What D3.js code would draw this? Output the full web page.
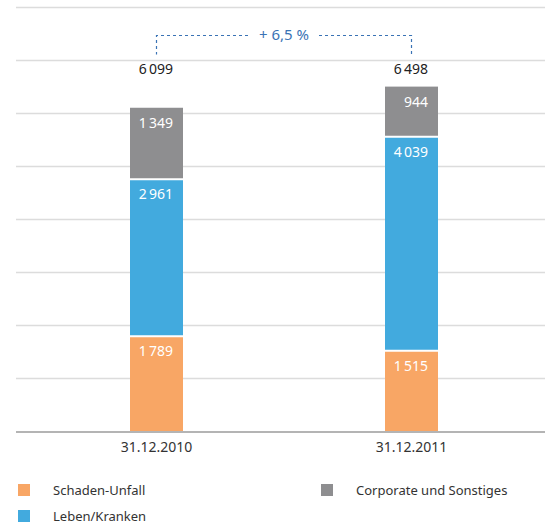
<!DOCTYPE html>
<html>
<head>
<meta charset="utf-8">
<script src="https://cdn.jsdelivr.net/npm/d3@7"></script>
<style>
  body { margin: 0; background: #fff; }
  text { font-family: "Noto Sans", "Liberation Sans", sans-serif; }
</style>
</head>
<body>
<div id="chart"></div>
<script>
// Data
let categories = ['31.12.2010', '31.12.2011'];
let seriesNames = ['Schaden-Unfall', 'Leben/Kranken', 'Corporate und Sonstiges'];
let schadenUnfall = [1789, 1515];
let lebenKranken = [2961, 4039];
let corporate = [1349, 944];
let totals = [6099, 6498];
let yTicks = [1000, 2000, 3000, 4000, 5000, 6000, 7000, 8000];
let changeLabel = '+ 6,5 %';

let colors = ['#f8a665', '#42aade', '#8e8e90'];

// Svg dimensions
let svgWidth = 545;
let svgHeight = 525;
let plot = { left: 16, right: 545, top: 7, bottom: 431 };

let svg = d3.select('#chart').append('svg')
    .attr('width', svgWidth)
    .attr('height', svgHeight);

// Build rows for the stack
let rows = categories.map((c, i) => ({
    cat: c,
    s0: schadenUnfall[i],
    s1: lebenKranken[i],
    s2: corporate[i]
}));
let stack = d3.stack().keys(['s0', 's1', 's2'])(rows);

// Scales
let xScale = d3.scaleBand()
    .domain(categories)
    .range([29, 539]);
let yScale = d3.scaleLinear()
    .domain([0, 8000])
    .range([plot.bottom, plot.top]);
let barWidth = 53;
let barX = c => xScale(c) + xScale.bandwidth() / 2 - barWidth / 2;
let fmt = v => d3.format(',')(v).replace(',', '\u2009');

// Gridlines
svg.append('g').selectAll('line')
    .data(yTicks).enter()
    .append('line')
    .attr('x1', plot.left)
    .attr('x2', plot.right)
    .attr('y1', d => Math.round(yScale(d)) + 0.5)
    .attr('y2', d => Math.round(yScale(d)) + 0.5)
    .style('stroke', '#dcdcdc')
    .style('stroke-width', 1.5);

// Bars
let layers = svg.selectAll('g.layer')
    .data(stack).enter()
    .append('g')
    .attr('class', 'layer')
    .style('fill', (d, i) => colors[i]);

layers.selectAll('rect')
    .data(d => d).enter()
    .append('rect')
    .attr('x', d => barX(d.data.cat))
    .attr('width', barWidth)
    .attr('y', d => yScale(d[1]))
    .attr('height', d => yScale(d[0]) - yScale(d[1]));

// White separators between segments
layers.filter((d, i) => i > 0).selectAll('line')
    .data(d => d).enter()
    .append('line')
    .attr('x1', d => barX(d.data.cat))
    .attr('x2', d => barX(d.data.cat) + barWidth)
    .attr('y1', d => yScale(d[0]))
    .attr('y2', d => yScale(d[0]))
    .style('stroke', '#fff')
    .style('stroke-width', 2);

// Segment labels
layers.selectAll('text')
    .data(d => d).enter()
    .append('text')
    .attr('x', d => barX(d.data.cat) + barWidth - 10)
    .attr('y', d => yScale(d[1]) + 20)
    .attr('text-anchor', 'end')
    .style('font-size', '14px')
    .style('fill', '#fff')
    .text(d => fmt(d[1] - d[0]));

// Baseline and x axis labels
svg.append('line')
    .attr('x1', plot.left)
    .attr('x2', plot.right)
    .attr('y1', plot.bottom + 1)
    .attr('y2', plot.bottom + 1)
    .style('stroke', '#b4b4b4')
    .style('stroke-width', 2);

svg.append('g').selectAll('text')
    .data(categories).enter()
    .append('text')
    .attr('x', d => xScale(d) + xScale.bandwidth() / 2)
    .attr('y', 452)
    .attr('text-anchor', 'middle')
    .style('font-size', '14px')
    .style('fill', '#333')
    .text(d => d);

// Totals above bars
svg.append('g').selectAll('text')
    .data(categories).enter()
    .append('text')
    .attr('x', d => barX(d) + barWidth - 10)
    .attr('y', 74)
    .attr('text-anchor', 'end')
    .style('font-size', '14px')
    .style('fill', '#222')
    .text((d, i) => fmt(totals[i]));

// Change bracket
let cx0 = xScale(categories[0]) + xScale.bandwidth() / 2;
let cx1 = xScale(categories[1]) + xScale.bandwidth() / 2;
let mid = (cx0 + cx1) / 2;
let bracketY = 35.5;
let bracket = svg.append('g')
    .style('stroke', '#3a73b5')
    .style('stroke-width', 1.2)
    .style('stroke-dasharray', '3,3')
    .style('fill', 'none');
bracket.append('path')
    .attr('d', `M${mid - 36},${bracketY} H${cx0} V${bracketY + 19}`);
bracket.append('path')
    .attr('d', `M${mid + 35},${bracketY} H${cx1} V${bracketY + 19}`);
svg.append('text')
    .attr('x', mid)
    .attr('y', 40)
    .attr('text-anchor', 'middle')
    .style('font-size', '15px')
    .style('fill', '#3a73b5')
    .text(changeLabel);

// Legend
let legendPos = [[18, 484], [18, 510], [321, 484]];
let legend = svg.selectAll('g.legend')
    .data(seriesNames).enter()
    .append('g')
    .attr('class', 'legend')
    .attr('transform', (d, i) => `translate(${legendPos[i][0]}, ${legendPos[i][1]})`);
legend.append('rect')
    .attr('width', 12)
    .attr('height', 12)
    .style('fill', (d, i) => colors[i]);
legend.append('text')
    .attr('x', 35)
    .attr('y', 11)
    .style('font-size', '13px')
    .style('fill', '#333')
    .text(d => d);
</script>
</body>
</html>
